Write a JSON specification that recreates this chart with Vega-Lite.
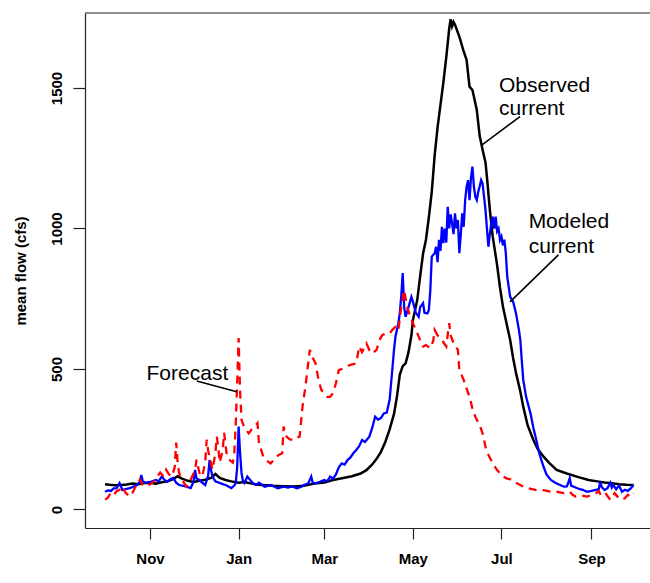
{
  "$schema": "https://vega.github.io/schema/vega-lite/v6.json",
  "autosize": {"type": "none"},
  "padding": {"left": 85, "top": 13, "right": 0, "bottom": 55},
  "width": 565,
  "height": 515,
  "background": "white",
  "config": {
    "view": {"stroke": null},
    "axis": {"grid": false, "labelFont": "Liberation Sans", "titleFont": "Liberation Sans", "labelColor": "#000", "titleColor": "#000", "domainColor": "#222", "domainWidth": 1.2, "tickColor": "#222", "tickWidth": 1.2, "labelFontSize": 15, "labelFontWeight": "bold", "titleFontSize": 15, "titleFontWeight": "bold"}
  },
  "datasets": {
    "observed": [
      {"date":"2010-10-01","flow":90},{"date":"2010-10-04","flow":88},{"date":"2010-10-08","flow":86},{"date":"2010-10-12","flow":87},{"date":"2010-10-16","flow":89},{"date":"2010-10-20","flow":92},{"date":"2010-10-24","flow":90},{"date":"2010-10-28","flow":94},
      {"date":"2010-11-01","flow":95},{"date":"2010-11-05","flow":92},{"date":"2010-11-09","flow":97},{"date":"2010-11-13","flow":100},{"date":"2010-11-17","flow":108},{"date":"2010-11-20","flow":118},{"date":"2010-11-23","flow":110},{"date":"2010-11-27","flow":102},
      {"date":"2010-12-01","flow":98},{"date":"2010-12-05","flow":102},{"date":"2010-12-09","flow":106},{"date":"2010-12-13","flow":112},{"date":"2010-12-16","flow":126},{"date":"2010-12-19","flow":112},{"date":"2010-12-23","flow":105},{"date":"2010-12-27","flow":100},
      {"date":"2011-01-01","flow":95},{"date":"2011-01-05","flow":98},{"date":"2011-01-10","flow":92},{"date":"2011-01-15","flow":88},{"date":"2011-01-20","flow":86},{"date":"2011-01-25","flow":84},
      {"date":"2011-02-01","flow":83},{"date":"2011-02-08","flow":82},{"date":"2011-02-15","flow":84},{"date":"2011-02-22","flow":92},
      {"date":"2011-03-01","flow":96},{"date":"2011-03-07","flow":105},{"date":"2011-03-14","flow":112},{"date":"2011-03-20","flow":118},{"date":"2011-03-26","flow":128},{"date":"2011-03-30","flow":140},
      {"date":"2011-04-03","flow":160},{"date":"2011-04-06","flow":180},{"date":"2011-04-09","flow":205},{"date":"2011-04-12","flow":240},{"date":"2011-04-15","flow":285},{"date":"2011-04-18","flow":340},{"date":"2011-04-20","flow":400},{"date":"2011-04-22","flow":480},{"date":"2011-04-24","flow":510},{"date":"2011-04-26","flow":520},{"date":"2011-04-28","flow":560},{"date":"2011-04-30","flow":620},
      {"date":"2011-05-01","flow":674},{"date":"2011-05-04","flow":745},{"date":"2011-05-06","flow":830},{"date":"2011-05-08","flow":910},{"date":"2011-05-10","flow":960},{"date":"2011-05-12","flow":1040},{"date":"2011-05-14","flow":1130},{"date":"2011-05-16","flow":1260},{"date":"2011-05-18","flow":1360},{"date":"2011-05-20","flow":1440},{"date":"2011-05-22","flow":1520},{"date":"2011-05-24","flow":1610},{"date":"2011-05-26","flow":1710},{"date":"2011-05-27","flow":1745},{"date":"2011-05-28","flow":1720},{"date":"2011-05-29","flow":1735},{"date":"2011-05-30","flow":1725},
      {"date":"2011-06-02","flow":1683},{"date":"2011-06-05","flow":1630},{"date":"2011-06-07","flow":1600},{"date":"2011-06-09","flow":1505},{"date":"2011-06-11","flow":1493},{"date":"2011-06-12","flow":1470},{"date":"2011-06-14","flow":1422},{"date":"2011-06-16","flow":1330},{"date":"2011-06-18","flow":1280},{"date":"2011-06-20","flow":1235},{"date":"2011-06-21","flow":1184},{"date":"2011-06-23","flow":1066},{"date":"2011-06-25","flow":971},{"date":"2011-06-28","flow":870},{"date":"2011-06-30","flow":790},
      {"date":"2011-07-02","flow":722},{"date":"2011-07-05","flow":650},{"date":"2011-07-07","flow":603},{"date":"2011-07-09","flow":540},{"date":"2011-07-11","flow":486},{"date":"2011-07-14","flow":420},{"date":"2011-07-16","flow":366},{"date":"2011-07-19","flow":300},{"date":"2011-07-23","flow":247},{"date":"2011-07-26","flow":215},{"date":"2011-07-30","flow":188},
      {"date":"2011-08-03","flow":165},{"date":"2011-08-08","flow":141},{"date":"2011-08-15","flow":128},{"date":"2011-08-23","flow":115},{"date":"2011-08-30","flow":105},
      {"date":"2011-09-05","flow":100},{"date":"2011-09-10","flow":96},{"date":"2011-09-15","flow":93},{"date":"2011-09-20","flow":90},{"date":"2011-09-25","flow":88},{"date":"2011-09-30","flow":87}
    ],
    "modeled": [
      {"date":"2010-10-01","flow":63},{"date":"2010-10-03","flow":68},{"date":"2010-10-05","flow":66},{"date":"2010-10-07","flow":75},{"date":"2010-10-09","flow":76},{"date":"2010-10-11","flow":94},{"date":"2010-10-13","flow":69},{"date":"2010-10-15","flow":72},{"date":"2010-10-18","flow":76},{"date":"2010-10-20","flow":80},{"date":"2010-10-23","flow":87},{"date":"2010-10-25","flow":100},{"date":"2010-10-26","flow":123},{"date":"2010-10-27","flow":100},{"date":"2010-10-29","flow":94},{"date":"2010-10-31","flow":97},
      {"date":"2010-11-02","flow":99},{"date":"2010-11-05","flow":105},{"date":"2010-11-07","flow":100},{"date":"2010-11-09","flow":117},{"date":"2010-11-11","flow":105},{"date":"2010-11-13","flow":99},{"date":"2010-11-15","flow":108},{"date":"2010-11-17","flow":112},{"date":"2010-11-19","flow":95},{"date":"2010-11-21","flow":87},{"date":"2010-11-24","flow":84},{"date":"2010-11-26","flow":81},{"date":"2010-11-29","flow":76},
      {"date":"2010-12-01","flow":100},{"date":"2010-12-02","flow":141},{"date":"2010-12-03","flow":110},{"date":"2010-12-05","flow":105},{"date":"2010-12-07","flow":95},{"date":"2010-12-09","flow":87},{"date":"2010-12-11","flow":120},{"date":"2010-12-12","flow":176},{"date":"2010-12-13","flow":140},{"date":"2010-12-14","flow":117},{"date":"2010-12-16","flow":100},{"date":"2010-12-19","flow":94},{"date":"2010-12-21","flow":90},{"date":"2010-12-23","flow":87},{"date":"2010-12-25","flow":82},{"date":"2010-12-27","flow":76},{"date":"2010-12-29","flow":85},{"date":"2010-12-30","flow":94},{"date":"2010-12-31","flow":150},
      {"date":"2011-01-01","flow":295},{"date":"2011-01-02","flow":200},{"date":"2011-01-03","flow":130},{"date":"2011-01-04","flow":100},{"date":"2011-01-05","flow":94},{"date":"2011-01-07","flow":117},{"date":"2011-01-09","flow":105},{"date":"2011-01-11","flow":92},{"date":"2011-01-13","flow":87},{"date":"2011-01-15","flow":95},{"date":"2011-01-17","flow":88},{"date":"2011-01-19","flow":81},{"date":"2011-01-21","flow":84},{"date":"2011-01-23","flow":87},{"date":"2011-01-26","flow":80},{"date":"2011-01-28","flow":75},
      {"date":"2011-02-01","flow":81},{"date":"2011-02-04","flow":78},{"date":"2011-02-07","flow":82},{"date":"2011-02-10","flow":75},{"date":"2011-02-13","flow":80},{"date":"2011-02-15","flow":87},{"date":"2011-02-18","flow":93},{"date":"2011-02-20","flow":117},{"date":"2011-02-21","flow":95},{"date":"2011-02-23","flow":93},{"date":"2011-02-26","flow":98},
      {"date":"2011-03-01","flow":105},{"date":"2011-03-03","flow":100},{"date":"2011-03-05","flow":117},{"date":"2011-03-07","flow":110},{"date":"2011-03-09","flow":125},{"date":"2011-03-11","flow":150},{"date":"2011-03-13","flow":164},{"date":"2011-03-15","flow":160},{"date":"2011-03-17","flow":176},{"date":"2011-03-19","flow":185},{"date":"2011-03-21","flow":200},{"date":"2011-03-23","flow":212},{"date":"2011-03-25","flow":225},{"date":"2011-03-27","flow":247},{"date":"2011-03-29","flow":240},
      {"date":"2011-04-01","flow":259},{"date":"2011-04-03","flow":290},{"date":"2011-04-05","flow":330},{"date":"2011-04-07","flow":320},{"date":"2011-04-09","flow":325},{"date":"2011-04-11","flow":342},{"date":"2011-04-13","flow":345},{"date":"2011-04-15","flow":390},{"date":"2011-04-17","flow":508},{"date":"2011-04-18","flow":568},{"date":"2011-04-19","flow":615},{"date":"2011-04-21","flow":663},{"date":"2011-04-22","flow":700},{"date":"2011-04-23","flow":760},{"date":"2011-04-24","flow":841},{"date":"2011-04-25","flow":720},{"date":"2011-04-26","flow":686},{"date":"2011-04-28","flow":720},{"date":"2011-04-30","flow":757},
      {"date":"2011-05-01","flow":740},{"date":"2011-05-03","flow":700},{"date":"2011-05-05","flow":686},{"date":"2011-05-06","flow":720},{"date":"2011-05-08","flow":734},{"date":"2011-05-09","flow":700},{"date":"2011-05-11","flow":698},{"date":"2011-05-12","flow":710},{"date":"2011-05-13","flow":780},{"date":"2011-05-14","flow":900},{"date":"2011-05-16","flow":912},{"date":"2011-05-17","flow":935},{"date":"2011-05-18","flow":880},{"date":"2011-05-19","flow":960},{"date":"2011-05-20","flow":920},{"date":"2011-05-21","flow":1006},{"date":"2011-05-22","flow":948},{"date":"2011-05-23","flow":1000},{"date":"2011-05-24","flow":950},{"date":"2011-05-25","flow":1077},{"date":"2011-05-26","flow":1000},{"date":"2011-05-27","flow":1050},{"date":"2011-05-28","flow":1018},{"date":"2011-05-29","flow":980},{"date":"2011-05-30","flow":1054},{"date":"2011-05-31","flow":1000},
      {"date":"2011-06-01","flow":1030},{"date":"2011-06-02","flow":912},{"date":"2011-06-03","flow":980},{"date":"2011-06-04","flow":1054},{"date":"2011-06-05","flow":1006},{"date":"2011-06-06","flow":1101},{"date":"2011-06-07","flow":1149},{"date":"2011-06-08","flow":1172},{"date":"2011-06-09","flow":1101},{"date":"2011-06-10","flow":1180},{"date":"2011-06-11","flow":1220},{"date":"2011-06-12","flow":1150},{"date":"2011-06-13","flow":1113},{"date":"2011-06-14","flow":1101},{"date":"2011-06-15","flow":1130},{"date":"2011-06-16","flow":1150},{"date":"2011-06-17","flow":1172},{"date":"2011-06-18","flow":1160},{"date":"2011-06-19","flow":1113},{"date":"2011-06-20","flow":1066},{"date":"2011-06-21","flow":1000},{"date":"2011-06-22","flow":935},{"date":"2011-06-23","flow":980},{"date":"2011-06-24","flow":1020},{"date":"2011-06-25","flow":1042},{"date":"2011-06-26","flow":1000},{"date":"2011-06-27","flow":1042},{"date":"2011-06-28","flow":990},{"date":"2011-06-29","flow":1000},{"date":"2011-06-30","flow":959},
      {"date":"2011-07-01","flow":971},{"date":"2011-07-02","flow":940},{"date":"2011-07-03","flow":960},{"date":"2011-07-04","flow":912},{"date":"2011-07-05","flow":828},{"date":"2011-07-07","flow":757},{"date":"2011-07-09","flow":740},{"date":"2011-07-11","flow":698},{"date":"2011-07-13","flow":640},{"date":"2011-07-14","flow":603},{"date":"2011-07-15","flow":530},{"date":"2011-07-16","flow":461},{"date":"2011-07-18","flow":400},{"date":"2011-07-21","flow":342},{"date":"2011-07-23","flow":290},{"date":"2011-07-25","flow":247},{"date":"2011-07-27","flow":200},{"date":"2011-07-30","flow":152},
      {"date":"2011-08-01","flow":125},{"date":"2011-08-04","flow":105},{"date":"2011-08-07","flow":95},{"date":"2011-08-10","flow":88},{"date":"2011-08-13","flow":81},{"date":"2011-08-15","flow":82},{"date":"2011-08-16","flow":95},{"date":"2011-08-17","flow":111},{"date":"2011-08-18","flow":85},{"date":"2011-08-21","flow":78},{"date":"2011-08-24","flow":72},{"date":"2011-08-26","flow":70},{"date":"2011-08-29","flow":63},
      {"date":"2011-09-01","flow":66},{"date":"2011-09-04","flow":70},{"date":"2011-09-06","flow":72},{"date":"2011-09-07","flow":99},{"date":"2011-09-08","flow":80},{"date":"2011-09-10","flow":69},{"date":"2011-09-12","flow":76},{"date":"2011-09-14","flow":95},{"date":"2011-09-15","flow":78},{"date":"2011-09-16","flow":87},{"date":"2011-09-18","flow":72},{"date":"2011-09-20","flow":85},{"date":"2011-09-22","flow":63},{"date":"2011-09-24","flow":70},{"date":"2011-09-26","flow":66},{"date":"2011-09-28","flow":75},{"date":"2011-09-30","flow":87}
    ],
    "forecast": [
      {"date":"2010-10-01","flow":35},{"date":"2010-10-03","flow":42},{"date":"2010-10-05","flow":60},{"date":"2010-10-07","flow":52},{"date":"2010-10-09","flow":65},{"date":"2010-10-11","flow":70},{"date":"2010-10-13","flow":82},{"date":"2010-10-15","flow":60},{"date":"2010-10-18","flow":46},{"date":"2010-10-20","flow":60},{"date":"2010-10-21","flow":71},{"date":"2010-10-23","flow":90},{"date":"2010-10-25","flow":106},{"date":"2010-10-27","flow":88},{"date":"2010-10-30","flow":82},
      {"date":"2010-11-01","flow":90},{"date":"2010-11-03","flow":96},{"date":"2010-11-05","flow":110},{"date":"2010-11-08","flow":131},{"date":"2010-11-10","flow":120},{"date":"2010-11-12","flow":142},{"date":"2010-11-14","flow":125},{"date":"2010-11-16","flow":117},{"date":"2010-11-18","flow":150},{"date":"2010-11-19","flow":238},{"date":"2010-11-20","flow":167},{"date":"2010-11-21","flow":130},{"date":"2010-11-23","flow":106},{"date":"2010-11-26","flow":82},{"date":"2010-11-28","flow":95},{"date":"2010-11-30","flow":117},
      {"date":"2010-12-02","flow":140},{"date":"2010-12-03","flow":177},{"date":"2010-12-05","flow":130},{"date":"2010-12-07","flow":117},{"date":"2010-12-09","flow":170},{"date":"2010-12-10","flow":248},{"date":"2010-12-11","flow":210},{"date":"2010-12-12","flow":188},{"date":"2010-12-14","flow":142},{"date":"2010-12-16","flow":200},{"date":"2010-12-17","flow":259},{"date":"2010-12-18","flow":220},{"date":"2010-12-19","flow":167},{"date":"2010-12-21","flow":210},{"date":"2010-12-22","flow":273},{"date":"2010-12-23","flow":230},{"date":"2010-12-24","flow":188},{"date":"2010-12-26","flow":175},{"date":"2010-12-28","flow":167},{"date":"2010-12-29","flow":200},{"date":"2010-12-30","flow":300},{"date":"2010-12-31","flow":450},
      {"date":"2011-01-01","flow":610},{"date":"2011-01-02","flow":420},{"date":"2011-01-03","flow":319},{"date":"2011-01-05","flow":290},{"date":"2011-01-08","flow":271},{"date":"2011-01-10","flow":285},{"date":"2011-01-12","flow":295},{"date":"2011-01-14","flow":307},{"date":"2011-01-15","flow":236},{"date":"2011-01-18","flow":188},{"date":"2011-01-20","flow":175},{"date":"2011-01-23","flow":164},{"date":"2011-01-25","flow":175},{"date":"2011-01-27","flow":188},{"date":"2011-01-29","flow":195},{"date":"2011-01-31","flow":200},
      {"date":"2011-02-01","flow":295},{"date":"2011-02-03","flow":259},{"date":"2011-02-05","flow":250},{"date":"2011-02-08","flow":247},{"date":"2011-02-10","flow":255},{"date":"2011-02-12","flow":259},{"date":"2011-02-14","flow":366},{"date":"2011-02-16","flow":437},{"date":"2011-02-19","flow":568},{"date":"2011-02-21","flow":540},{"date":"2011-02-23","flow":520},{"date":"2011-02-25","flow":461},{"date":"2011-02-27","flow":425},
      {"date":"2011-03-01","flow":414},{"date":"2011-03-03","flow":401},{"date":"2011-03-05","flow":401},{"date":"2011-03-07","flow":414},{"date":"2011-03-09","flow":449},{"date":"2011-03-11","flow":496},{"date":"2011-03-13","flow":500},{"date":"2011-03-16","flow":508},{"date":"2011-03-19","flow":515},{"date":"2011-03-23","flow":520},{"date":"2011-03-25","flow":580},{"date":"2011-03-27","flow":560},{"date":"2011-03-30","flow":591},
      {"date":"2011-04-02","flow":556},{"date":"2011-04-04","flow":560},{"date":"2011-04-06","flow":568},{"date":"2011-04-08","flow":603},{"date":"2011-04-10","flow":621},{"date":"2011-04-13","flow":627},{"date":"2011-04-15","flow":627},{"date":"2011-04-17","flow":640},{"date":"2011-04-19","flow":650},{"date":"2011-04-21","flow":638},{"date":"2011-04-23","flow":722},{"date":"2011-04-25","flow":781},{"date":"2011-04-26","flow":750},{"date":"2011-04-27","flow":722},{"date":"2011-04-29","flow":690},
      {"date":"2011-05-01","flow":663},{"date":"2011-05-03","flow":640},{"date":"2011-05-05","flow":615},{"date":"2011-05-07","flow":590},{"date":"2011-05-08","flow":580},{"date":"2011-05-10","flow":585},{"date":"2011-05-13","flow":574},{"date":"2011-05-15","flow":600},{"date":"2011-05-16","flow":639},{"date":"2011-05-18","flow":620},{"date":"2011-05-21","flow":603},{"date":"2011-05-24","flow":580},{"date":"2011-05-26","flow":663},{"date":"2011-05-27","flow":620},{"date":"2011-05-29","flow":591},
      {"date":"2011-06-01","flow":568},{"date":"2011-06-02","flow":496},{"date":"2011-06-05","flow":461},{"date":"2011-06-07","flow":430},{"date":"2011-06-09","flow":401},{"date":"2011-06-11","flow":360},{"date":"2011-06-13","flow":330},{"date":"2011-06-16","flow":300},{"date":"2011-06-18","flow":271},{"date":"2011-06-20","flow":223},{"date":"2011-06-22","flow":195},{"date":"2011-06-25","flow":164},{"date":"2011-06-28","flow":140},
      {"date":"2011-07-02","flow":117},{"date":"2011-07-05","flow":110},{"date":"2011-07-09","flow":105},{"date":"2011-07-12","flow":92},{"date":"2011-07-16","flow":81},{"date":"2011-07-20","flow":75},{"date":"2011-07-25","flow":69},{"date":"2011-07-30","flow":69},
      {"date":"2011-08-04","flow":63},{"date":"2011-08-08","flow":63},{"date":"2011-08-13","flow":58},{"date":"2011-08-17","flow":63},{"date":"2011-08-19","flow":52},{"date":"2011-08-21","flow":46},{"date":"2011-08-25","flow":50},{"date":"2011-08-29","flow":46},
      {"date":"2011-09-01","flow":52},{"date":"2011-09-04","flow":58},{"date":"2011-09-06","flow":65},{"date":"2011-09-08","flow":46},{"date":"2011-09-11","flow":55},{"date":"2011-09-14","flow":34},{"date":"2011-09-17","flow":58},{"date":"2011-09-19","flow":45},{"date":"2011-09-22","flow":34},{"date":"2011-09-24","flow":40},{"date":"2011-09-26","flow":52},{"date":"2011-09-28","flow":45},{"date":"2011-09-30","flow":58}
    ],
    "labels": [
      {"label":"Forecast","date":"2010-10-29T14:00:00Z","flow":461},
      {"label":"Observed","date":"2011-06-29T08:00:00Z","flow":1485},
      {"label":"current","date":"2011-06-29T08:00:00Z","flow":1404},
      {"label":"Modeled","date":"2011-07-19T17:00:00Z","flow":1001},
      {"label":"current","date":"2011-07-19T17:00:00Z","flow":912}
    ],
    "leaders": [
      {"date":"2010-12-03T04:00:00Z","flow":457,"date2":"2010-12-30T17:00:00Z","flow2":419},
      {"date":"2011-07-13T19:00:00Z","flow":1398,"date2":"2011-06-17T10:00:00Z","flow2":1297},
      {"date":"2011-08-09T05:00:00Z","flow":906,"date2":"2011-07-06T22:00:00Z","flow2":739}
    ]
  },
  "encoding": {
    "x": {"field": "date", "type": "temporal",
      "scale": {"type": "utc", "domain": [{"year": 2010, "month": 9, "date": 17, "hours": 5, "utc": true}, {"year": 2011, "month": 10, "date": 11, "hours": 7, "utc": true}]},
      "axis": {"title": null, "labelExpr": "utcFormat(datum.value, '%b')", "tickSize": 11, "labelPadding": 12, "labelAngle": 0, "labelAlign": "center", "labelBaseline": "top",
        "values": [{"year": 2010, "month": 11, "date": 1, "utc": true}, {"year": 2011, "month": 1, "date": 1, "utc": true}, {"year": 2011, "month": 3, "date": 1, "utc": true}, {"year": 2011, "month": 5, "date": 1, "utc": true}, {"year": 2011, "month": 7, "date": 1, "utc": true}, {"year": 2011, "month": 9, "date": 1, "utc": true}]}},
    "y": {"field": "flow", "type": "quantitative",
      "scale": {"domain": [-66, 1767], "nice": false, "zero": false},
      "axis": {"title": "mean flow (cfs)", "format": "d", "values": [0, 500, 1000, 1500], "tickSize": 12, "labelAngle": 270, "labelAlign": "center", "labelBaseline": "bottom", "labelPadding": 9, "titlePadding": 21}}
  },
  "layer": [
    {
      "data": {"name": "observed"},
      "mark": {"type": "line", "color": "#000000", "strokeWidth": 2.5}
    },
    {
      "data": {"name": "modeled"},
      "mark": {"type": "line", "color": "#0000FF", "strokeWidth": 2.3}
    },
    {
      "data": {"name": "forecast"},
      "mark": {"type": "line", "color": "#FF0000", "strokeWidth": 2.3, "strokeDash": [8, 6]}
    },
    {
      "data": {"name": "labels"},
      "mark": {"type": "text", "align": "left", "baseline": "alphabetic", "font": "Liberation Sans", "fontSize": 21, "color": "#000000"},
      "encoding": {"text": {"field": "label"}}
    },
    {
      "data": {"name": "leaders"},
      "mark": {"type": "rule", "color": "#000000", "strokeWidth": 1.6},
      "encoding": {
        "x2": {"field": "date2"},
        "y2": {"field": "flow2"}
      }
    },
    {
      "data": {"values": [{"top": 1767}]},
      "mark": {"type": "rule", "color": "#222", "strokeWidth": 1.2},
      "encoding": {
        "x": null,
        "y": {"field": "top", "type": "quantitative"}
      }
    }
  ]
}
